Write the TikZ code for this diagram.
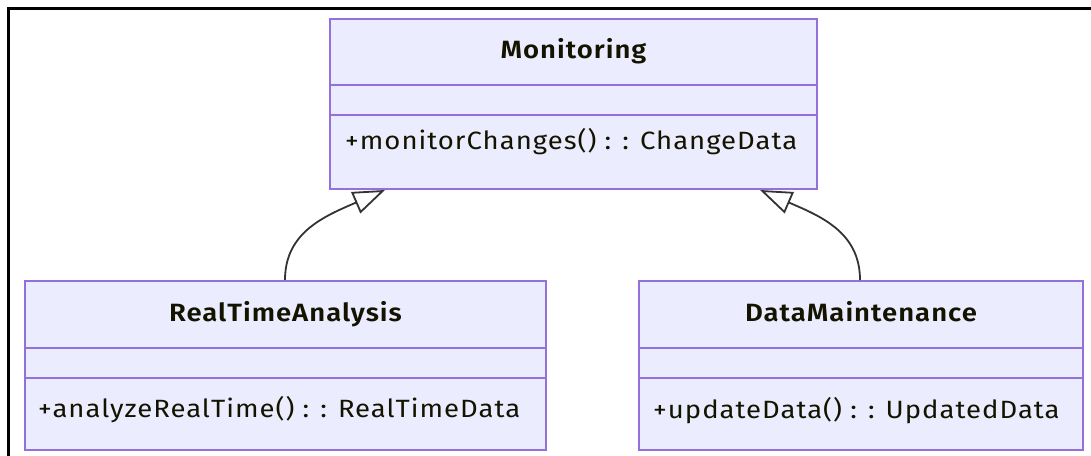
\documentclass[tikz,border=0pt]{standalone}
\usepackage{fontspec}
\setmainfont{Fira Sans}
\newfontfamily\umlfont[FakeStretch=1.1, LetterSpace=4, BoldFont={Fira Sans SemiBold}]{Fira Sans}
\usetikzlibrary{arrows.meta}
\definecolor{boxfill}{HTML}{ECECFF}
\definecolor{boxline}{HTML}{9370DB}
\definecolor{txt}{HTML}{131300}
\definecolor{edge}{HTML}{333333}
\tikzset{
  classbox/.style={draw=boxline, fill=boxfill, line width=2pt, rectangle, inner sep=0pt, anchor=north west},
  divider/.style={draw=boxline, line width=2pt},
  title/.style={anchor=base, font=\umlfont\fontsize{25}{29}\selectfont\bfseries, text=txt, inner sep=0pt},
  member/.style={anchor=base west, font=\umlfont\fontsize{25}{29}\selectfont, text=txt, inner sep=0pt},
  inherit/.style={draw=edge, line width=1.8pt, -{Triangle[open, length=32pt, width=23pt, fill=white]}},
  frame/.style={draw=black, line width=2.8pt}
}
\begin{document}
\begin{tikzpicture}[x=1pt, y=-1pt]
  \useasboundingbox (0,0) rectangle (1091,455);
  % outer frame
  \draw[frame] (8.5,470) -- (8.5,8.5) -- (1100,8.5);

  % class boxes
  \node[classbox, minimum width=487pt, minimum height=170pt] (mon) at (329,18) {};
  \node[classbox, minimum width=521pt, minimum height=169pt] (rta) at (24,280) {};
  \node[classbox, minimum width=444pt, minimum height=169pt] (dm) at (638,280) {};

  % compartment dividers
  \draw[divider] (mon.west |- 0,85) -- (mon.east |- 0,85);
  \draw[divider] (mon.west |- 0,115) -- (mon.east |- 0,115);
  \draw[divider] (rta.west |- 0,348) -- (rta.east |- 0,348);
  \draw[divider] (rta.west |- 0,378) -- (rta.east |- 0,378);
  \draw[divider] (dm.west |- 0,348) -- (dm.east |- 0,348);
  \draw[divider] (dm.west |- 0,378) -- (dm.east |- 0,378);

  % class names
  \node[title] (monT) at (mon.north |- 0,58) {Monitoring};
  \node[title] (rtaT) at (rta.north |- 0,321) {RealTimeAnalysis};
  \node[title] (dmT) at (dm.north |- 0,321) {DataMaintenance};

  % operations
  \node[member] (monM) at (345,149) {+monitorChanges() : : ChangeData};
  \node[member] (rtaM) at (38,417) {+analyzeRealTime() : : RealTimeData};
  \node[member] (dmM) at (653,418) {+updateData() : : UpdatedData};

  % inheritance arrows
  \coordinate (rtaTop) at (rta.north -| 285,0);
  \coordinate (dmTop) at (dm.north -| 860,0);
  \coordinate (monL) at (mon.south -| 385,0);
  \coordinate (monR) at (mon.south -| 760,0);
  \draw[inherit] (rtaTop) .. controls (285,232) and (325,216) .. (monL);
  \draw[inherit] (dmTop) .. controls (860,232) and (820,216) .. (monR);
\end{tikzpicture}
\end{document}
